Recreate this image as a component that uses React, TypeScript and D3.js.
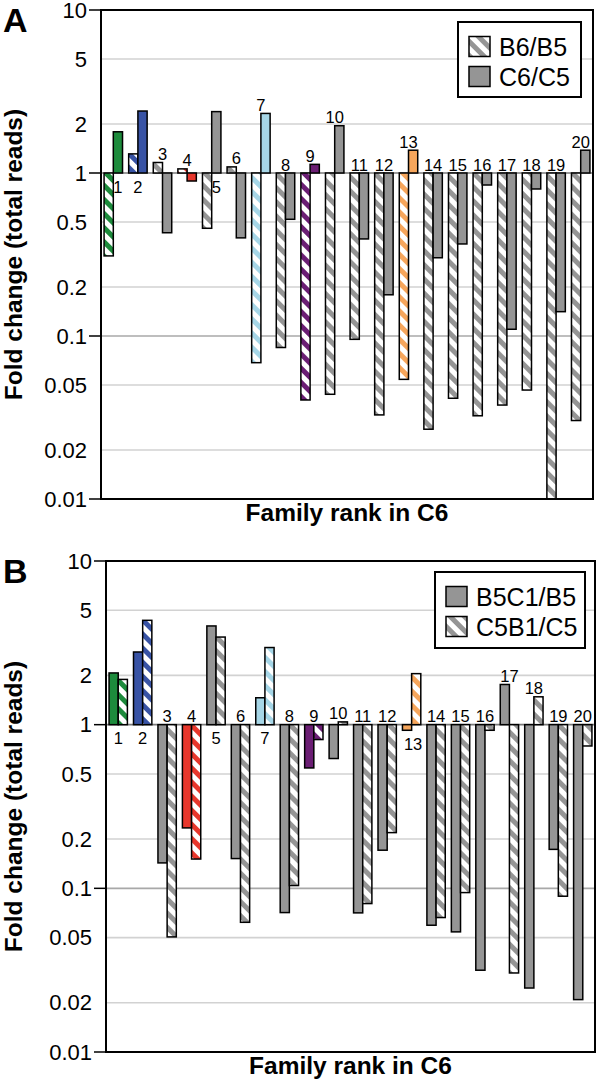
import React from "react";
import * as d3 from "d3";

// ---------- data ----------
const families = [1, 2, 3, 4, 5, 6, 7, 8, 9, 10, 11, 12, 13, 14, 15, 16, 17, 18, 19, 20];

// Panel A
const seriesA1Name = "B6/B5"; // hatched
const seriesA2Name = "C6/C5"; // solid
const b6b5 = [0.31, 1.31, 1.16, 1.06, 0.458, 1.09, 0.0686, 0.085, 0.0405, 0.0439, 0.0954, 0.0328, 0.0542, 0.0268, 0.0415, 0.0324, 0.0377, 0.0466, 0.01, 0.0303];
const c6c5 = [1.79, 2.4, 0.43, 0.893, 2.38, 0.4, 2.32, 0.52, 1.13, 1.95, 0.394, 0.179, 1.38, 0.302, 0.367, 0.844, 0.11, 0.798, 0.141, 1.38];
const labelsBelowA = [1, 2, 5];

// Panel B
const seriesB1Name = "B5C1/B5"; // solid
const seriesB2Name = "C5B1/C5"; // hatched
const b5c1b5 = [2.07, 2.78, 0.143, 0.234, 4.01, 0.152, 1.46, 0.0711, 0.544, 0.621, 0.0708, 0.171, 0.924, 0.0595, 0.0542, 0.0316, 1.76, 0.0246, 0.173, 0.0209];
const c5b1c5 = [1.89, 4.34, 0.0505, 0.151, 3.43, 0.062, 2.96, 0.104, 0.811, 1.04, 0.0807, 0.219, 2.05, 0.0663, 0.0942, 0.924, 0.0304, 1.48, 0.0895, 0.741];
const labelsBelowB = [1, 2, 5, 7, 13];

const familyColors: (string | null)[] = [
  "#1d8b3c", "#3853a5", null, "#e8372c", null, null, "#a6d6e7", null, "#6b1e74", null,
  null, null, "#f6a65c", null, null, null, null, null, null, null,
];
const GRAY = "#959595";

const tickValues = [10, 5, 2, 1, 0.5, 0.2, 0.1, 0.05, 0.02, 0.01];
const tickLabels = ["10", "5", "2", "1", "0.5", "0.2", "0.1", "0.05", "0.02", "0.01"];
const majorTicks = [10, 1, 0.1, 0.01];

const FONT = "'Liberation Sans', Arial, Helvetica, sans-serif";

type Series = { name: string; values: number[]; hatched: boolean };

type PanelProps = {
  letter: string;
  left: number;
  right: number;
  top: number;
  bottom: number;
  series: Series[];
  labelsBelow: number[];
  legend: { x: number; y: number; w: number; h: number };
};

const patId = (c: string) => "hatch-" + c.replace("#", "");

function Panel({ letter, left, right, top, bottom, series, labelsBelow, legend }: PanelProps) {
  const y = d3.scaleLog().domain([0.01, 10]).range([bottom, top]);
  const x = d3
    .scaleBand<number>()
    .domain(families)
    .range([left, right])
    .paddingInner(0.25)
    .paddingOuter(0.125);
  const xs = d3
    .scaleBand<number>()
    .domain(series.map((_, i) => i))
    .range([0, x.bandwidth()]);
  const y1 = y(1);
  const bw = xs.bandwidth();

  const bars: React.ReactNode[] = [];
  const labels: React.ReactNode[] = [];

  families.forEach((f, fi) => {
    const col = familyColors[fi] ?? GRAY;
    series.forEach((s, si) => {
      const v = s.values[fi];
      const yv = y(v);
      const bx = (x(f) as number) + (xs(si) as number);
      bars.push(
        <rect
          key={`b-${f}-${si}`}
          x={bx}
          width={bw}
          y={Math.min(yv, y1)}
          height={Math.max(Math.abs(yv - y1), 1)}
          fill={s.hatched ? `url(#${patId(col)})` : col}
          stroke="#000"
          strokeWidth={1.5}
        />
      );
    });

    // label placement
    const gx = (x(f) as number) + x.bandwidth() / 2;
    if (labelsBelow.includes(f)) {
      const pos = series.map((s, si) => ({ si, v: s.values[fi] })).filter((d) => d.v >= 1);
      let lx = gx;
      if (pos.length === 1) lx = (x(f) as number) + (xs(pos[0].si) as number) + bw / 2;
      const halfW = (String(f).length * 8.9) / 2;
      let base = y1;
      series.forEach((s, si) => {
        const v = s.values[fi];
        const bx = (x(f) as number) + (xs(si) as number);
        if (v < 1 && bx < lx + halfW && bx + bw > lx - halfW) {
          base = Math.max(base, y(v));
          lx = gx + 1.5;
        }
      });
      labels.push(
        <text key={`l-${f}`} x={lx} y={base + 19.5} textAnchor="middle" fontSize={16.5} fontFamily={FONT}>
          {f}
        </text>
      );
    } else {
      const mx = Math.max(1, ...series.map((s) => s.values[fi]));
      labels.push(
        <text key={`l-${f}`} x={gx} y={y(mx) - 2.5} textAnchor="middle" fontSize={16.5} fontFamily={FONT}>
          {f}
        </text>
      );
    }
  });

  const ymid = (top + bottom) / 2;
  const xmid = (left + right) / 2;

  return (
    <g>
      {/* gridlines */}
      {tickValues
        .filter((t) => t !== 10 && t !== 0.01)
        .map((t) => (
          <line
            key={`g-${t}`}
            x1={left}
            x2={right}
            y1={y(t)}
            y2={y(t)}
            stroke={t === 1 ? "#7a7a7a" : t === 0.1 ? "#a8a8a8" : "#d2d2d2"}
            strokeWidth={1.6}
          />
        ))}
      {bars}
      {labels}
      {/* frame */}
      <rect x={left} y={top} width={right - left} height={bottom - top} fill="none" stroke="#000" strokeWidth={2} />
      {/* ticks */}
      {majorTicks.map((t) => (
        <line key={`t-${t}`} x1={left - 12} x2={left} y1={y(t)} y2={y(t)} stroke="#000" strokeWidth={1.5} />
      ))}
      {tickValues.map((t, i) => (
        <text
          key={`tl-${t}`}
          x={left - 14}
          y={y(t)}
          dy="0.35em"
          textAnchor="end"
          fontSize={22}
          fontFamily={FONT}
        >
          {tickLabels[i]}
        </text>
      ))}
      {/* axis titles */}
      <text
        transform={`translate(22,${ymid}) rotate(-90)`}
        textAnchor="middle"
        fontSize={24.5}
        fontWeight="bold"
        fontFamily={FONT}
      >
        Fold change (total reads)
      </text>
      <text x={xmid} y={bottom + 22} textAnchor="middle" fontSize={24.5} fontWeight="bold" fontFamily={FONT}>
        Family rank in C6
      </text>
      {/* panel letter */}
      <text x={3} y={top + 22} fontSize={34} fontWeight="bold" fontFamily={FONT}>
        {letter}
      </text>
      {/* legend */}
      <rect x={legend.x} y={legend.y} width={legend.w} height={legend.h} fill="#fff" stroke="#000" strokeWidth={2} />
      {series.map((s, si) => (
        <g key={`lg-${si}`}>
          <rect
            x={legend.x + 11}
            y={legend.y + 14.5 + si * 30}
            width={21}
            height={20}
            fill={s.hatched ? `url(#${patId(GRAY)})` : GRAY}
            stroke="#000"
            strokeWidth={1.5}
          />
          <text x={legend.x + 41} y={legend.y + 34 + si * 30} fontSize={25} fontFamily={FONT}>
            {s.name}
          </text>
        </g>
      ))}
    </g>
  );
}

export default function App() {
  const colors = Array.from(new Set([GRAY, ...familyColors.filter((c): c is string => !!c)]));
  return (
    <svg
      width={600}
      height={1082}
      style={{ position: "absolute", left: 0, top: 0, background: "#fff" }}
    >
      <defs>
        {colors.map((c) => (
          <pattern
            key={c}
            id={patId(c)}
            patternUnits="userSpaceOnUse"
            width={10}
            height={10}
            patternTransform="rotate(-45)"
          >
            <rect width={10} height={10} fill="#fff" />
            <rect width={5} height={10} fill={c} />
          </pattern>
        ))}
      </defs>
      <rect width={600} height={1082} fill="#fff" />
      <Panel
        letter="A"
        left={101}
        right={593}
        top={10}
        bottom={499}
        series={[
          { name: seriesA1Name, values: b6b5, hatched: true },
          { name: seriesA2Name, values: c6c5, hatched: false },
        ]}
        labelsBelow={labelsBelowA}
        legend={{ x: 458, y: 22, w: 123, h: 75 }}
      />
      <Panel
        letter="B"
        left={106}
        right={595}
        top={561}
        bottom={1052}
        series={[
          { name: seriesB1Name, values: b5c1b5, hatched: false },
          { name: seriesB2Name, values: c5b1c5, hatched: true },
        ]}
        labelsBelow={labelsBelowB}
        legend={{ x: 435, y: 572, w: 150, h: 76 }}
      />
    </svg>
  );
}
